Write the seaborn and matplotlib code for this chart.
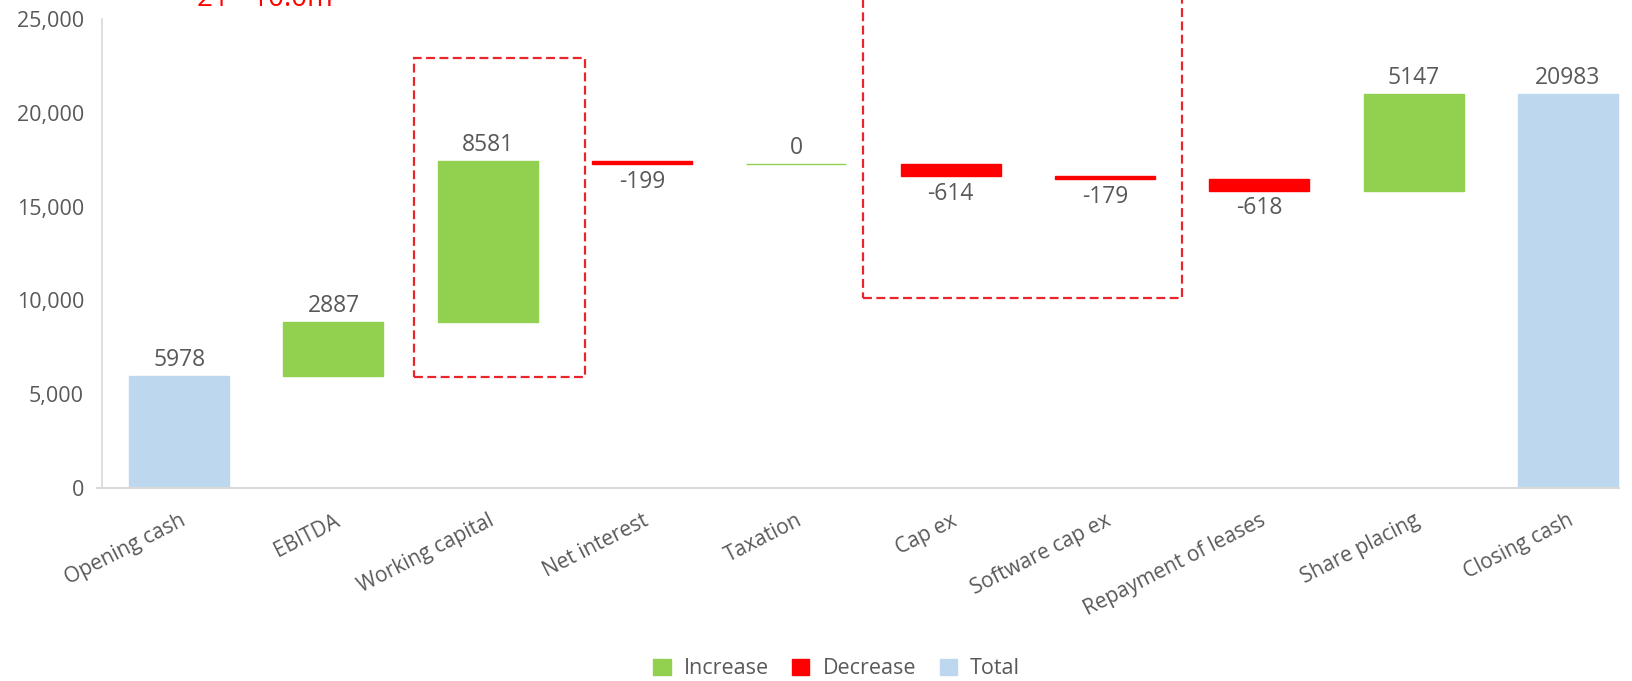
import matplotlib
matplotlib.use("Agg")
import matplotlib.pyplot as plt
import seaborn as sns
import numpy as np
from matplotlib.patches import Rectangle, Patch

categories = ["Opening cash", "EBITDA", "Working capital", "Net interest", "Taxation",
              "Cap ex", "Software cap ex", "Repayment of leases", "Share placing", "Closing cash"]
values = [5978, 2887, 8581, -199, 0, -614, -179, -618, 5147, 20983]
kinds = ["Total", "Increase", "Increase", "Decrease", "Increase",
         "Decrease", "Decrease", "Decrease", "Increase", "Total"]
yticks = [0, 5000, 10000, 15000, 20000, 25000]
legend_labels = ["Increase", "Decrease", "Total"]
title_text = "21 - 10.0m"

colors = {"Increase": "#92D050", "Decrease": "#FF0000", "Total": "#BDD7EE"}
txt_color = "#595959"

# waterfall geometry
bottoms, heights, tops = [], [], []
running = 0
for v, k in zip(values, kinds):
    if k == "Total":
        bottoms.append(0); heights.append(v); tops.append(v)
        running = v
    else:
        start, end = running, running + v
        bottoms.append(min(start, end)); heights.append(abs(v)); tops.append(max(start, end))
        running = end

sns.set_theme(style="white")
plt.rcParams["font.family"] = ["Open Sans", "DejaVu Sans"]

fig = plt.figure(figsize=(16.32, 6.81), dpi=100)
ax = fig.add_axes([102/1632, 1-488/681, 1543/1632, (488-19)/681])

palette = [colors[k] for k in kinds]
sns.barplot(x=categories, y=heights, hue=categories, palette=palette, legend=False,
            width=0.648, ax=ax, saturation=1, linewidth=1.0)
for i, p in enumerate(ax.patches):
    p.set_y(bottoms[i])
    p.set_edgecolor(palette[i])

for i, (v, k) in enumerate(zip(values, kinds)):
    if k == "Decrease":
        ax.annotate(f"{v}", (i, bottoms[i]), xytext=(0, -4), textcoords="offset points",
                    ha="center", va="top", fontsize=16.5, color=txt_color)
    else:
        ax.annotate(f"{v}", (i, tops[i]), xytext=(0, 3), textcoords="offset points",
                    ha="center", va="bottom", fontsize=16.5, color=txt_color)

ax.set_xlim(-0.5, 9.5)
ax.set_ylim(0, 25000)
ax.set_yticks(yticks)
ax.set_yticklabels([f"{t:,}" for t in yticks])
ax.tick_params(axis="y", length=0, pad=13, labelsize=15.5, labelcolor=txt_color)
ax.tick_params(axis="x", length=0, pad=16, labelsize=15, labelcolor=txt_color)
for lab in ax.get_xticklabels():
    lab.set_rotation(27)
    lab.set_ha("right")
    lab.set_va("top")
    lab.set_rotation_mode("anchor")
ax.set_xlabel(""); ax.set_ylabel("")
for s in ["top", "right"]:
    ax.spines[s].set_visible(False)
ax.spines["left"].set_color("#D9D9D9")
ax.spines["bottom"].set_color("#D9D9D9")
ax.spines["left"].set_linewidth(1.2)
ax.spines["bottom"].set_linewidth(1.5)
ax.spines["bottom"].set_bounds(-0.53, 9.33)

# dashed highlight boxes
box_kw = dict(fill=False, edgecolor="#E8252B", linewidth=1.6, linestyle=(0, (4, 2)), clip_on=False)
ax.add_patch(Rectangle((1.522, 5920), 2.630 - 1.522, 22933 - 5920, **box_kw))
ax.add_patch(Rectangle((4.432, 10133), 6.500 - 4.432, 32000 - 10133, **box_kw))

fig.text(197/1632, 1 - 6/681, title_text, color="#FF0000", fontsize=20, ha="left", va="baseline")

handles = [Patch(facecolor=colors[l], edgecolor=colors[l]) for l in legend_labels]
fig.legend(handles, legend_labels, loc="center", bbox_to_anchor=(836.5/1632, 1 - 669/681), ncol=3,
           frameon=False, fontsize=15.5, labelcolor=txt_color, handlelength=0.8, handleheight=0.8,
           handletextpad=0.6, columnspacing=1.1)

fig.savefig("out.png", dpi=100)
